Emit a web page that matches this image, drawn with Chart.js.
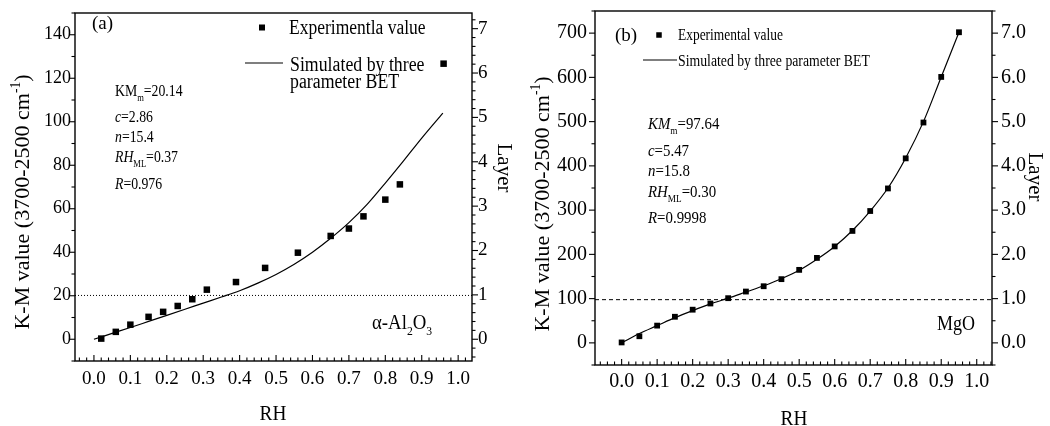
<!DOCTYPE html>
<html>
<head>
<meta charset="utf-8">
<script src="https://cdn.jsdelivr.net/npm/chart.js@4.4.1/dist/chart.umd.min.js"></script>
<style>
  body { margin: 0; background: #fff; width: 1050px; height: 426px; overflow: hidden; }
  .panel { position: absolute; top: 0; width: 525px; height: 426px; }
</style>
</head>
<body>
<div class="panel" style="left:0"><canvas id="chartA" width="525" height="426"></canvas></div>
<div class="panel" style="left:525px"><canvas id="chartB" width="525" height="426"></canvas></div>
<script>
// Panel (a): alpha-Al2O3
const rhA = [0.02, 0.06, 0.10, 0.15, 0.19, 0.23, 0.27, 0.31, 0.39, 0.47, 0.56, 0.65, 0.70, 0.74, 0.80, 0.84, 0.96];
const kmA = [0.3, 3.4, 6.7, 10.3, 12.6, 15.3, 18.4, 22.8, 26.3, 32.8, 39.8, 47.5, 50.9, 56.5, 64.2, 71.2, 126.7];
const fitRhA = [0, 0.05, 0.1, 0.15, 0.2, 0.25, 0.3, 0.35, 0.4, 0.45, 0.5, 0.55, 0.6, 0.65, 0.7, 0.75, 0.8, 0.85, 0.9, 0.958];
const fitKmA = [0, 2.7, 5.4, 8.2, 11.0, 13.8, 16.6, 19.4, 22.3, 25.8, 29.8, 34.5, 40.0, 46.4, 53.6, 62.0, 71.8, 82.0, 92.5, 104];
const monoA = 20.14;

// Panel (b): MgO
const rhB = [0, 0.05, 0.1, 0.15, 0.2, 0.25, 0.3, 0.35, 0.4, 0.45, 0.5, 0.55, 0.6, 0.65, 0.7, 0.75, 0.8, 0.85, 0.9, 0.95];
const kmB = [1, 15, 39, 59, 75, 89, 101, 116, 128, 144, 165, 192, 218, 253, 298, 349, 417, 498, 601, 702];
const fitRhB = [0, 0.05, 0.1, 0.15, 0.2, 0.25, 0.3, 0.35, 0.4, 0.45, 0.5, 0.55, 0.6, 0.65, 0.7, 0.75, 0.8, 0.85, 0.9, 0.95];
const fitKmB = [0, 21, 39, 57, 73, 88, 101, 115, 129, 145, 164, 189, 218, 254, 298, 350, 418, 500, 601, 702];
const monoB = 97.64;

// Tick labels
const xTicks = [0, 0.1, 0.2, 0.3, 0.4, 0.5, 0.6, 0.7, 0.8, 0.9, 1.0];
const yTicksA = [0, 20, 40, 60, 80, 100, 120, 140];
const layerTicksA = [0, 1, 2, 3, 4, 5, 6, 7];
const yTicksB = [0, 100, 200, 300, 400, 500, 600, 700];
const layerTicksB = [0, 1, 2, 3, 4, 5, 6, 7];

const FONT = 'Liberation Serif';

function steps(from, to, step) {
    const out = [];
    for (let v = from; v <= to + 1e-9; v += step) out.push(Math.round(v * 1000) / 1000);
    return out;
}

function toXY(xs, ys) {
    return xs.map((x, i) => ({ x: x, y: ys[i] }));
}

// Draws a line of text with italic / sub / sup pieces
function drawRich(ctx, it) {
    const base = it.size;
    const segs = it.parts.map(p => {
        const t = p[0];
        const f = p[1] || '';
        const small = f.includes('b') || f.includes('p');
        const font = (f.includes('i') ? 'italic ' : '') + (small ? base * 0.62 : base) + 'px "' + FONT + '"';
        ctx.font = font;
        let dy = 0;
        if (f.includes('b')) dy = base * 0.32;
        if (f.includes('p')) dy = -base * 0.42;
        return { t: t, font: font, w: ctx.measureText(t).width, dy: dy };
    });
    const total = segs.reduce((s, g) => s + g.w, 0);
    ctx.save();
    ctx.translate(it.x, it.y);
    if (it.rot) ctx.rotate(it.rot);
    ctx.scale(it.sx || 1, 1);
    ctx.fillStyle = '#000';
    ctx.textBaseline = 'alphabetic';
    let cx = it.align === 'center' ? -total / 2 : 0;
    segs.forEach(g => {
        ctx.font = g.font;
        ctx.fillText(g.t, cx, g.dy);
        cx += g.w;
    });
    ctx.restore();
}

// Frame, tick marks, legend glyphs and text
const panelPlugin = {
    id: 'panelDecor',
    afterDraw(chart, args, opts) {
        const ctx = chart.ctx;
        const area = chart.chartArea;
        ctx.save();
        ctx.strokeStyle = '#000';
        ctx.lineWidth = 1.4;
        ctx.strokeRect(area.left, area.top, area.right - area.left, area.bottom - area.top);

        ctx.lineWidth = 1.1;
        opts.marks.forEach(m => {
            const sc = chart.scales[m.axis];
            const all = m.major.map(v => [v, 6]).concat(m.minor.map(v => [v, 3.5]));
            all.forEach(([v, len]) => {
                const p = sc.getPixelForValue(v);
                ctx.beginPath();
                if (m.axis === 'x') {
                    if (p < area.left || p > area.right) return;
                    ctx.moveTo(p, area.bottom);
                    ctx.lineTo(p, area.bottom - len);
                } else if (m.axis === 'y') {
                    if (p < area.top || p > area.bottom) return;
                    ctx.moveTo(area.left, p);
                    ctx.lineTo(area.left - len, p);
                } else {
                    if (p < area.top || p > area.bottom) return;
                    ctx.moveTo(area.right, p);
                    ctx.lineTo(area.right + len, p);
                }
                ctx.stroke();
            });
        });

        // legend samples
        const lg = opts.legend;
        ctx.fillStyle = '#000';
        ctx.fillRect(lg.sq[0] - lg.sq[2] / 2, lg.sq[1] - lg.sq[2] / 2, lg.sq[2], lg.sq[2]);
        ctx.lineWidth = 1.2;
        ctx.beginPath();
        ctx.moveTo(lg.line[0], lg.line[2]);
        ctx.lineTo(lg.line[1], lg.line[2]);
        ctx.stroke();
        ctx.restore();

        opts.texts.forEach(t => drawRich(ctx, t));
    }
};

function makePanel(id, p) {
    const ctx = document.getElementById(id).getContext('2d');
    const noGrid = { display: false, drawTicks: false };
    return new Chart(ctx, {
        type: 'scatter',
        data: {
            datasets: [
                {
                    label: 'Experimental value',
                    data: toXY(p.rh, p.km),
                    pointStyle: 'rect',
                    pointRadius: p.pointR,
                    backgroundColor: '#000',
                    borderColor: '#000',
                    borderWidth: 0,
                    order: 0,
                },
                {
                    label: 'Simulated by three parameter BET',
                    data: toXY(p.fitRh, p.fitKm),
                    showLine: true,
                    cubicInterpolationMode: 'monotone',
                    pointRadius: 0,
                    borderColor: '#000',
                    borderWidth: 1.2,
                    order: 1,
                },
                {
                    label: 'monolayer',
                    data: [{ x: p.xMin, y: p.mono }, { x: p.xMax, y: p.mono }],
                    showLine: true,
                    pointRadius: 0,
                    borderColor: '#000',
                    borderWidth: 1,
                    borderDash: p.dash,
                    order: 2,
                },
            ],
        },
        options: {
            responsive: false,
            animation: false,
            devicePixelRatio: 1,
            layout: { padding: { top: p.top, left: 0, right: 0, bottom: 0 } },
            scales: {
                x: {
                    type: 'linear',
                    min: p.xMin,
                    max: p.xMax,
                    grid: noGrid,
                    border: { display: false },
                    ticks: { font: { family: FONT, size: p.tickSize }, color: '#000', padding: p.xPad, callback: v => v.toFixed(1) },
                    afterBuildTicks: s => { s.ticks = xTicks.map(v => ({ value: v })); },
                    afterFit: s => { s.height = p.xH; s.paddingLeft = 0; s.paddingRight = 0; },
                },
                y: {
                    type: 'linear',
                    position: 'left',
                    min: p.yMin,
                    max: p.yMax,
                    grid: noGrid,
                    border: { display: false },
                    ticks: { font: { family: FONT, size: p.yTickSize }, color: '#000', padding: p.yPad },
                    afterBuildTicks: s => { s.ticks = p.yTicks.map(v => ({ value: v })); },
                    afterFit: s => { s.width = p.yW; s.paddingTop = 0; s.paddingBottom = 0; },
                },
                y2: {
                    type: 'linear',
                    position: 'right',
                    min: p.yMin / p.perLayer,
                    max: p.yMax / p.perLayer,
                    grid: noGrid,
                    border: { display: false },
                    ticks: { font: { family: FONT, size: p.y2TickSize }, color: '#000', padding: p.y2Pad, callback: p.layerFmt },
                    afterBuildTicks: s => { s.ticks = p.layerTicks.map(v => ({ value: v })); },
                    afterFit: s => { s.width = p.y2W; s.paddingTop = 0; s.paddingBottom = 0; },
                },
            },
            plugins: {
                legend: { display: false },
                tooltip: { enabled: false },
                panelDecor: {
                    marks: [
                        { axis: 'x', major: xTicks, minor: steps(-0.06, 1.04, 0.02).filter(v => !xTicks.includes(v)) },
                        { axis: 'y', major: p.yTicks, minor: p.yMinor },
                        { axis: 'y2', major: p.layerTicks, minor: p.layerMinor },
                    ],
                    legend: p.legend,
                    texts: p.texts,
                },
            },
        },
        plugins: [panelPlugin],
    });
}

const yTitle = [['K-M value (3700-2500 cm'], ['-1', 'p'], [')']];

makePanel('chartA', {
    rh: rhA, km: kmA, fitRh: fitRhA, fitKm: fitKmA, mono: monoA,
    xMin: -0.052, xMax: 1.038, yMin: -10, yMax: 150, perLayer: 20.4,
    yTicks: yTicksA, layerTicks: layerTicksA,
    yMinor: [-10, 10, 30, 50, 70, 90, 110, 130, 150],
    layerMinor: steps(-0.4, 7.4, 0.2).filter(v => !layerTicksA.includes(v)),
    layerFmt: v => String(v),
    top: 13, xH: 65, yW: 75, y2W: 53,
    tickSize: 19, yTickSize: 18, y2TickSize: 19, xPad: 7, yPad: 4, y2Pad: 6,
    pointR: 4.6, dash: [1, 2],
    legend: { sq: [262, 27.5, 6], line: [245, 283, 63] },
    texts: [
        { x: 92, y: 29, size: 19, parts: [['(a)']] },
        { x: 289, y: 34, size: 20, sx: 0.875, parts: [['Experimentla value']] },
        { x: 290, y: 71, size: 20, sx: 0.89, parts: [['Simulated by three']] },
        { x: 290, y: 88, size: 20, sx: 0.89, parts: [['parameter BET']] },
        { x: 115, y: 96, size: 16, sx: 0.86, parts: [['KM'], ['m', 'b'], ['=20.14']] },
        { x: 115, y: 122, size: 16, sx: 0.86, parts: [['c', 'i'], ['=2.86']] },
        { x: 115, y: 142, size: 16, sx: 0.86, parts: [['n', 'i'], ['=15.4']] },
        { x: 115, y: 162, size: 16, sx: 0.86, parts: [['RH', 'i'], ['ML', 'b'], ['=0.37']] },
        { x: 115, y: 189, size: 16, sx: 0.86, parts: [['R', 'i'], ['=0.976']] },
        { x: 372, y: 329, size: 20, sx: 0.94, parts: [['\u03b1-Al'], ['2', 'b'], ['O'], ['3', 'b']] },
        { x: 29, y: 202, size: 22, rot: -Math.PI / 2, align: 'center', parts: yTitle },
        { x: 498, y: 168, size: 21, rot: Math.PI / 2, align: 'center', parts: [['Layer']] },
        { x: 273, y: 420, size: 21, sx: 0.92, align: 'center', parts: [['RH']] },
    ],
});

makePanel('chartB', {
    rh: rhB, km: kmB, fitRh: fitRhB, fitKm: fitKmB, mono: monoB,
    xMin: -0.075, xMax: 1.043, yMin: -50, yMax: 750, perLayer: 100,
    yTicks: yTicksB, layerTicks: layerTicksB,
    yMinor: [-50, 50, 150, 250, 350, 450, 550, 650, 750],
    layerMinor: [-0.5, 0.5, 1.5, 2.5, 3.5, 4.5, 5.5, 6.5, 7.5],
    layerFmt: v => v.toFixed(1),
    top: 11, xH: 61, yW: 70, y2W: 58,
    tickSize: 20, yTickSize: 20, y2TickSize: 20, xPad: 5, yPad: 8, y2Pad: 9,
    pointR: 4.1, dash: [4, 3],
    legend: { sq: [134, 35, 5.5], line: [118, 152, 60] },
    texts: [
        { x: 90, y: 41, size: 19, parts: [['(b)']] },
        { x: 153, y: 40, size: 16, sx: 0.84, parts: [['Experimental value']] },
        { x: 153, y: 66, size: 16, sx: 0.86, parts: [['Simulated by three parameter BET']] },
        { x: 123, y: 129, size: 16, sx: 0.93, parts: [['KM', 'i'], ['m', 'b'], ['=97.64']] },
        { x: 123, y: 156, size: 16, sx: 0.93, parts: [['c', 'i'], ['=5.47']] },
        { x: 123, y: 176, size: 16, sx: 0.93, parts: [['n', 'i'], ['=15.8']] },
        { x: 123, y: 197, size: 16, sx: 0.93, parts: [['RH', 'i'], ['ML', 'b'], ['=0.30']] },
        { x: 123, y: 223, size: 16, sx: 0.93, parts: [['R', 'i'], ['=0.9998']] },
        { x: 412, y: 330, size: 20, sx: 0.9, parts: [['MgO']] },
        { x: 24, y: 204, size: 22, rot: -Math.PI / 2, align: 'center', parts: yTitle },
        { x: 504, y: 177, size: 21, rot: Math.PI / 2, align: 'center', parts: [['Layer']] },
        { x: 269, y: 425, size: 21, sx: 0.92, align: 'center', parts: [['RH']] },
    ],
});
</script>
</body>
</html>
